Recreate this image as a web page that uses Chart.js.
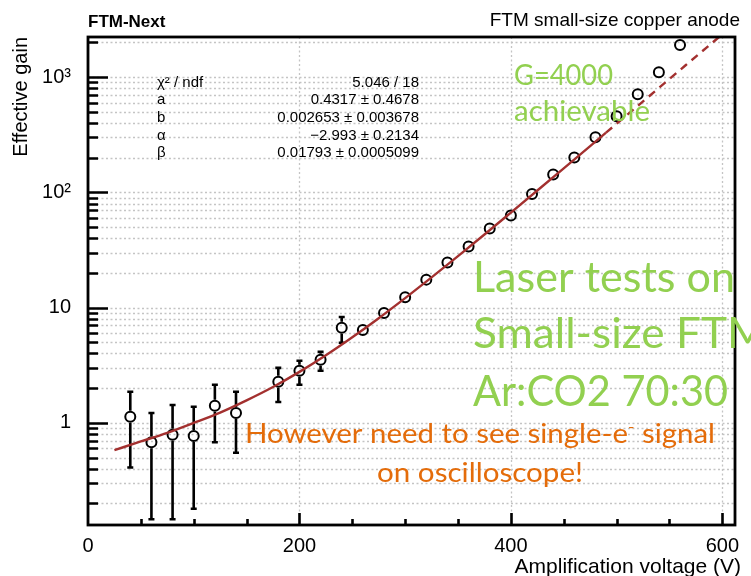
<!DOCTYPE html>
<html>
<head>
<meta charset="utf-8">
<script src="https://cdn.jsdelivr.net/npm/chart.js@4.4.1/dist/chart.umd.min.js"></script>
<style>
  html, body { margin: 0; padding: 0; background: #fff; }
  canvas { display: block; }
</style>
</head>
<body>
<canvas id="gainChart" width="751" height="576"></canvas>
<script>
// measured points (V, effective gain) with error bar ends
const voltage = [40, 60, 80, 100, 120, 140, 180, 200, 220, 240, 260, 280, 300, 320, 340, 360, 380, 400, 420, 440, 460, 480, 500, 520, 540, 560];
const gain    = [1.13, 0.68, 0.79, 0.77, 1.41, 1.22, 2.27, 2.83, 3.53, 6.7, 6.4, 9.0, 12.3, 17.5, 24.6, 33.9, 48.6, 63, 97, 143, 201, 301, 457, 711, 1105, 1897];
const errLow  = [0.41, 0.146, 0.146, 0.18, 0.68, 0.55, 1.52, 2.14, 2.83, 4.96, null, null, null, null, null, null, null, null, null, null, null, null, null, null, null, null];
const errHigh = [1.86, 1.22, 1.43, 1.38, 2.14, 1.86, 3.0, 3.46, 4.14, 8.3, null, null, null, null, null, null, null, null, null, null, null, null, null, null, null, null];

// fit curve: solid inside fit range, dashed extrapolation
const fitV = [25, 50, 75, 100, 125, 150, 175, 200, 225, 250, 275, 300, 325, 350, 375, 400, 425, 450, 475, 490];
const fitG = [0.58, 0.69, 0.82, 1.0, 1.23, 1.57, 2.05, 2.77, 3.86, 5.53, 8.1, 12.1, 18.3, 28.0, 43.1, 66.8, 103.8, 161.7, 252.4, 330];
const extV = [490, 515, 540, 565, 590, 600];
const extG = [330, 515, 806, 1261, 1970, 2358];

const xTickLabels = [0, 200, 400, 600];
const yTickLabels = { 1: '1', 10: '10', 100: '10²', 1000: '10³' };

const statLabels = ['χ² / ndf', 'a', 'b', 'α', 'β'];
const statValues = ['5.046 / 18', '0.4317 ± 0.4678', '0.002653 ± 0.003678', '−2.993 ± 0.2134', '0.01793 ± 0.0005099'];

const ROOTFONT = '"Liberation Sans", Arial, sans-serif';
const SLIDEFONT = 'Lato, "Open Sans", sans-serif';
const GREEN = '#92d050';
const ORANGE = '#e46c0a';

function logTicks(min, max) {
  const out = [];
  for (let e = -1; e <= 3; e++) {
    for (let m = 1; m <= 9; m++) {
      const v = m * Math.pow(10, e);
      if (v >= min && v <= max) out.push(v);
    }
  }
  return out;
}

function fitText(ctx, text, x, y, width) {
  const w = ctx.measureText(text).width;
  ctx.save();
  ctx.translate(x, y);
  ctx.scale(width / w, 1);
  ctx.textAlign = 'left';
  ctx.fillText(text, 0, 0);
  ctx.restore();
}

const rootDecor = {
  id: 'rootDecor',
  beforeDatasetsDraw(chart) {
    const { ctx, chartArea: a, scales: { x, y } } = chart;
    ctx.save();
    // dotted grid
    ctx.strokeStyle = '#c4c4c4';
    ctx.lineWidth = 1.3;
    ctx.setLineDash([2, 2.5]);
    logTicks(y.min, y.max).forEach(v => {
      const py = Math.round(y.getPixelForValue(v)) + 0.5;
      ctx.beginPath(); ctx.moveTo(a.left, py); ctx.lineTo(a.right, py); ctx.stroke();
    });
    xTickLabels.forEach(v => {
      if (v <= x.min || v >= x.max) return;
      const px = Math.round(x.getPixelForValue(v)) + 0.5;
      ctx.beginPath(); ctx.moveTo(px, a.top); ctx.lineTo(px, a.bottom); ctx.stroke();
    });
    ctx.setLineDash([]);
    // error bars, gapped at marker
    ctx.strokeStyle = '#000';
    ctx.lineWidth = 2.6;
    const r = 6;
    voltage.forEach((v, i) => {
      if (errLow[i] == null) return;
      const px = x.getPixelForValue(v);
      const py = y.getPixelForValue(gain[i]);
      const hi = y.getPixelForValue(errHigh[i]);
      const lo = y.getPixelForValue(errLow[i]);
      ctx.beginPath();
      ctx.moveTo(px, hi); ctx.lineTo(px, py - r);
      ctx.moveTo(px, py + r); ctx.lineTo(px, Math.min(lo, a.bottom));
      ctx.moveTo(px - 3, hi); ctx.lineTo(px + 3, hi);
      if (lo < a.bottom) { ctx.moveTo(px - 3, lo); ctx.lineTo(px + 3, lo); }
      ctx.stroke();
    });
    ctx.restore();
  },
  afterDraw(chart) {
    const { ctx, chartArea: a, scales: { x, y } } = chart;
    ctx.save();
    // frame and inner ticks
    ctx.strokeStyle = '#000';
    ctx.lineWidth = 2.6;
    ctx.beginPath();
    logTicks(y.min, y.max).forEach(v => {
      const py = Math.round(y.getPixelForValue(v)) + 0.5;
      const len = yTickLabels[v] ? 20 : 10;
      ctx.moveTo(a.left, py); ctx.lineTo(a.left + len, py);
    });
    for (let v = 50; v < x.max; v += 50) {
      const px = Math.round(x.getPixelForValue(v)) + 0.5;
      const len = v % 200 === 0 ? 12 : 6;
      ctx.moveTo(px, a.bottom); ctx.lineTo(px, a.bottom - len);
    }
    ctx.stroke();
    ctx.lineWidth = 2.8;
    ctx.strokeRect(a.left, a.top, a.right - a.left, a.bottom - a.top);

    // ROOT texts
    ctx.fillStyle = '#000';
    ctx.textBaseline = 'alphabetic';
    ctx.font = 'bold 17px ' + ROOTFONT;
    ctx.textAlign = 'left';
    ctx.fillText('FTM-Next', 88, 27);
    ctx.font = '19px ' + ROOTFONT;
    ctx.textAlign = 'right';
    ctx.fillText('FTM small-size copper anode', 740, 26);
    ctx.font = '21px ' + ROOTFONT;
    ctx.fillText('Amplification voltage (V)', 741, 573);
    ctx.save();
    ctx.translate(27, 37);
    ctx.rotate(-Math.PI / 2);
    ctx.font = '20px ' + ROOTFONT;
    ctx.textAlign = 'right';
    ctx.fillText('Effective gain', 0, 0);
    ctx.restore();

    // fit statistics
    ctx.font = '15px ' + ROOTFONT;
    ctx.textBaseline = 'middle';
    statLabels.forEach((s, i) => {
      const py = 82.5 + i * 17.7;
      ctx.textAlign = 'left';
      ctx.fillText(s, 157, py);
      ctx.textAlign = 'right';
      ctx.fillText(statValues[i], 419, py);
    });

    // slide annotations
    ctx.textAlign = 'left';
    ctx.textBaseline = 'alphabetic';
    ctx.fillStyle = GREEN;
    ctx.font = '28px ' + SLIDEFONT;
    fitText(ctx, 'G=4000', 514, 85, 99);
    fitText(ctx, 'achievable', 514, 121, 136);
    ctx.font = '42px ' + SLIDEFONT;
    fitText(ctx, 'Laser tests on', 473, 292, 262);
    fitText(ctx, 'Small-size FTM', 473, 348, 295);
    fitText(ctx, 'Ar:CO2 70:30', 473, 406, 255);

    ctx.fillStyle = ORANGE;
    ctx.font = '27px ' + SLIDEFONT;
    const p1 = 'However need to see single-e';
    const p3 = ' signal';
    const w1 = ctx.measureText(p1).width;
    const w3 = ctx.measureText(p3).width;
    ctx.font = '16px ' + SLIDEFONT;
    const w2 = ctx.measureText('-').width;
    const sx = 470 / (w1 + w2 + w3);
    ctx.save();
    ctx.translate(245, 443);
    ctx.scale(sx, 1);
    ctx.textAlign = 'left';
    ctx.font = '27px ' + SLIDEFONT;
    ctx.fillText(p1, 0, 0);
    ctx.font = '16px ' + SLIDEFONT;
    ctx.fillText('-', w1, -11);
    ctx.font = '27px ' + SLIDEFONT;
    ctx.fillText(p3, w1 + w2, 0);
    ctx.restore();
    ctx.font = '27px ' + SLIDEFONT;
    fitText(ctx, 'on oscilloscope!', 377, 482, 206);
    ctx.restore();
  }
};

new Chart(document.getElementById('gainChart'), {
  type: 'scatter',
  data: {
    datasets: [
      {
        data: fitV.map((v, i) => ({ x: v, y: fitG[i] })),
        showLine: true, pointRadius: 0, borderColor: '#a3302f', borderWidth: 2.4,
        cubicInterpolationMode: 'monotone', order: 0
      },
      {
        data: extV.map((v, i) => ({ x: v, y: extG[i] })),
        showLine: true, pointRadius: 0, borderColor: '#a3302f', borderWidth: 2.4,
        borderDash: [8, 6], cubicInterpolationMode: 'monotone', order: 0
      },
      {
        data: voltage.map((v, i) => ({ x: v, y: gain[i] })),
        pointRadius: 5, pointBorderWidth: 2, pointBorderColor: '#000',
        pointBackgroundColor: 'rgba(0,0,0,0)', order: 1
      }
    ]
  },
  options: {
    responsive: false,
    animation: false,
    events: [],
    layout: { padding: { top: 37, right: 16, left: 0, bottom: 0 } },
    plugins: { legend: { display: false }, tooltip: { enabled: false } },
    scales: {
      x: {
        type: 'linear', min: 0, max: 612,
        grid: { display: false, drawTicks: false },
        border: { display: false },
        afterFit: s => { s.height = 51; },
        afterBuildTicks: s => { s.ticks = xTickLabels.map(v => ({ value: v })); },
        ticks: {
          autoSkip: false, maxRotation: 0, padding: 9, color: '#000',
          font: { family: ROOTFONT, size: 20 },
          callback: v => String(v)
        }
      },
      y: {
        type: 'logarithmic', min: 0.13, max: 2230,
        grid: { display: false, drawTicks: false },
        border: { display: false },
        afterFit: s => { s.width = 88; },
        afterBuildTicks: s => { s.ticks = logTicks(0.13, 2230).map(v => ({ value: v })); },
        ticks: {
          autoSkip: false, padding: 17, color: '#000',
          font: { family: ROOTFONT, size: 20 },
          callback: v => yTickLabels[v] || ''
        }
      }
    }
  },
  plugins: [rootDecor]
});
</script>
</body>
</html>
